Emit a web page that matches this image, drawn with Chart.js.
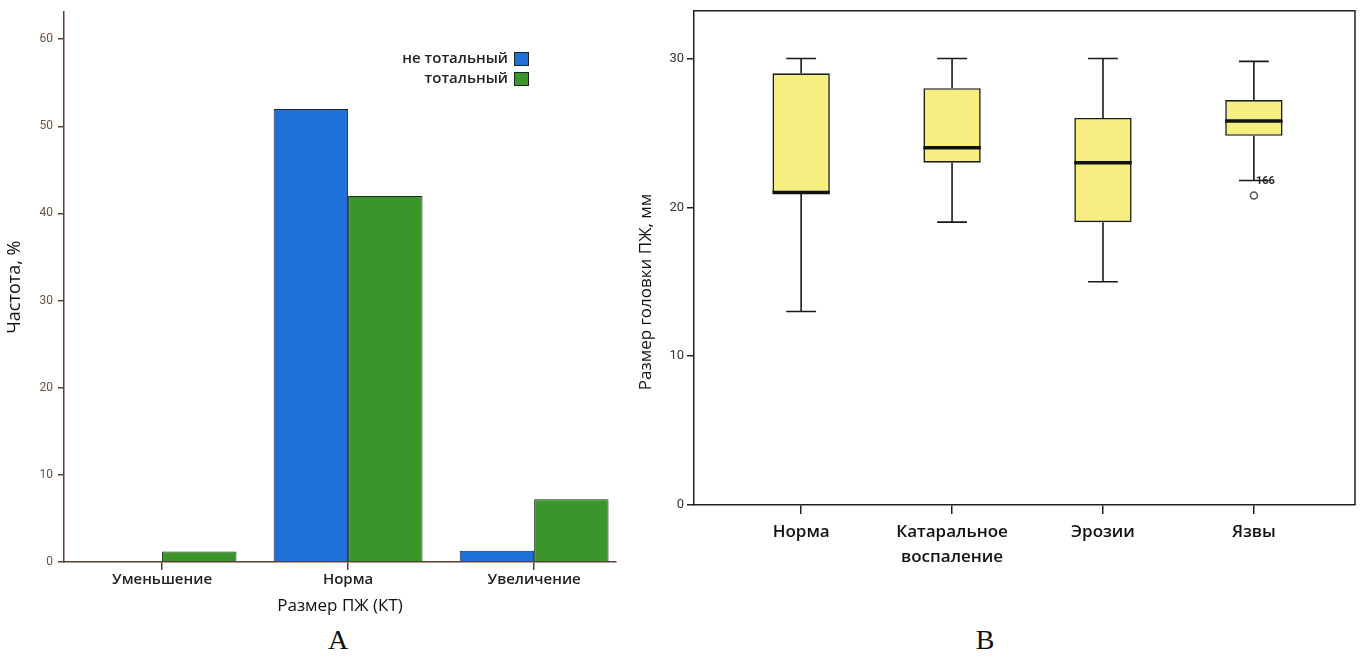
<!DOCTYPE html>
<html>
<head>
<meta charset="utf-8">
<script src="https://cdn.jsdelivr.net/npm/chart.js@4.4.1/dist/chart.umd.min.js"></script>
<style>
  body { margin: 0; background: #fff; width: 1362px; height: 661px; overflow: hidden; position: relative; }
  canvas { position: absolute; top: 0; }
  #chartA { left: 0; }
  #chartB { left: 620px; }
  .panel-letter { position: absolute; top: 624px; width: 60px; text-align: center; font: 28px "Liberation Serif", serif; color: #111; }
</style>
</head>
<body>
<canvas id="chartA" width="625" height="620"></canvas>
<canvas id="chartB" width="742" height="620"></canvas>
<div class="panel-letter" style="left:308px">A</div>
<div class="panel-letter" style="left:955px">B</div>
<script>
// panel A: frequency by pancreas size
var sizeCategories = ['Уменьшение', 'Норма', 'Увеличение'];
var notTotalValues = [0, 52, 1.3];
var totalValues = [1.2, 42, 7.2];
var seriesLabels = ['не тотальный', 'тотальный'];

// panel B: head size by lesion type
var lesionCategories = [['Норма'], ['Катаральное', 'воспаление'], ['Эрозии'], ['Язвы']];
var whiskerLow = [13, 19, 15, 21.8];
var boxLow = [21, 23, 19, 24.8];
var medians = [21, 24, 23, 25.8];
var boxHigh = [29, 28, 26, 27.2];
var whiskerHigh = [30, 30, 30, 29.8];
var outlierCategory = [3];
var outlierValues = [20.8];
var outlierLabels = ['166'];

var brown = '#5c4033';
var brownText = '#6e5040';

function fixedWidth(w) { return function (scale) { scale.width = w; }; }
function fixedHeight(h) { return function (scale) { scale.height = h; }; }

var legendRight = {
    id: 'legendRight',
    afterDraw: function (chart) {
        var ctx = chart.ctx;
        ctx.save();
        ctx.font = '600 15px "Open Sans"';
        ctx.textAlign = 'right';
        ctx.textBaseline = 'middle';
        chart.data.datasets.forEach(function (ds, i) {
            var y = 59 + i * 20;
            ctx.fillStyle = '#222';
            ctx.fillText(ds.label, 508, y);
            ctx.fillStyle = ds.backgroundColor;
            ctx.fillRect(514, y - 7, 15, 14);
            ctx.strokeStyle = '#1a2a1a';
            ctx.lineWidth = 1;
            ctx.strokeRect(514.5, y - 6.5, 14, 13);
        });
        ctx.restore();
    }
};

var chartA = new Chart(document.getElementById('chartA'), {
    type: 'bar',
    data: {
        datasets: [
            {
                label: seriesLabels[0],
                data: notTotalValues.map(function (v, i) { return { x: i, y: v }; }),
                backgroundColor: '#1f71d9',
                borderColor: '#16233a',
                borderWidth: 1
            },
            {
                label: seriesLabels[1],
                data: totalValues.map(function (v, i) { return { x: i, y: v }; }),
                backgroundColor: '#3b952b',
                borderColor: '#16301a',
                borderWidth: 1
            }
        ]
    },
    options: {
        animation: false,
        responsive: false,
        layout: { padding: { top: 10, right: 9 } },
        categoryPercentage: 0.8,
        barPercentage: 1.0,
        plugins: {
            legend: { display: false },
            tooltip: { enabled: false }
        },
        scales: {
            x: {
                type: 'linear',
                offset: false,
                min: -0.527,
                max: 2.44,
                afterBuildTicks: function (scale) {
                    scale.ticks = sizeCategories.map(function (_, i) { return { value: i }; });
                },
                afterFit: fixedHeight(58),
                ticks: {
                    callback: function (v) { return sizeCategories[v]; },
                    autoSkip: false,
                    maxRotation: 0,
                    padding: 1,
                    color: '#222',
                    font: { family: 'Open Sans', size: 15, weight: '600' }
                },
                grid: { offset: false, drawOnChartArea: false, tickLength: 8, color: brown, lineWidth: 1.5 },
                border: { color: brown, width: 1.5 },
                title: {
                    display: true,
                    text: 'Размер ПЖ (КТ)',
                    color: '#111',
                    font: { family: 'Open Sans', size: 17 },
                    padding: { top: 0, bottom: 4 }
                }
            },
            y: {
                min: 0,
                max: 63.1,
                afterFit: fixedWidth(64),
                ticks: {
                    stepSize: 10,
                    includeBounds: false,
                    padding: 5,
                    color: brownText,
                    font: { family: 'Roboto', size: 12 }
                },
                grid: { drawOnChartArea: false, tickLength: 6, color: brown, lineWidth: 1.5 },
                border: { color: brown, width: 1.5 },
                title: {
                    display: true,
                    text: 'Частота, %',
                    color: '#111',
                    font: { family: 'Open Sans', size: 18 },
                    padding: { top: 4, bottom: 0 }
                }
            }
        }
    },
    plugins: [legendRight]
});

var boxDecor = {
    id: 'boxDecor',
    beforeDatasetsDraw: function (chart) {
        var ctx = chart.ctx;
        var ys = chart.scales.y;
        var meta = chart.getDatasetMeta(0);
        ctx.save();
        ctx.strokeStyle = '#1b1b14';
        ctx.lineWidth = 1.6;
        meta.data.forEach(function (bar, i) {
            var x = bar.x;
            var cap = bar.width * 0.26;
            var yMin = ys.getPixelForValue(whiskerLow[i]);
            var yMax = ys.getPixelForValue(whiskerHigh[i]);
            ctx.beginPath();
            ctx.moveTo(x, ys.getPixelForValue(boxHigh[i]));
            ctx.lineTo(x, yMax);
            ctx.moveTo(x - cap, yMax);
            ctx.lineTo(x + cap, yMax);
            ctx.moveTo(x, ys.getPixelForValue(boxLow[i]));
            ctx.lineTo(x, yMin);
            ctx.moveTo(x - cap, yMin);
            ctx.lineTo(x + cap, yMin);
            ctx.stroke();
        });
        ctx.restore();
    },
    afterDatasetsDraw: function (chart) {
        var ctx = chart.ctx;
        var ys = chart.scales.y;
        var meta = chart.getDatasetMeta(0);
        ctx.save();
        ctx.strokeStyle = '#111';
        ctx.lineWidth = 3.5;
        meta.data.forEach(function (bar, i) {
            var y = ys.getPixelForValue(medians[i]);
            ctx.beginPath();
            ctx.moveTo(bar.x - bar.width / 2, y);
            ctx.lineTo(bar.x + bar.width / 2, y);
            ctx.stroke();
        });
        // outlier case numbers
        ctx.fillStyle = '#222';
        ctx.font = 'bold 11px Roboto';
        ctx.textAlign = 'left';
        ctx.textBaseline = 'middle';
        chart.getDatasetMeta(1).data.forEach(function (pt, i) {
            ctx.fillText(outlierLabels[i], pt.x + 2, pt.y - 14);
        });
        // frame on top and right
        var a = chart.chartArea;
        ctx.strokeStyle = '#222';
        ctx.lineWidth = 1.5;
        ctx.beginPath();
        ctx.moveTo(a.left, a.top);
        ctx.lineTo(a.right, a.top);
        ctx.lineTo(a.right, a.bottom);
        ctx.stroke();
        // y axis title, placed lower than the axis centre as in the source
        ctx.save();
        ctx.translate(26, 292);
        ctx.rotate(-Math.PI / 2);
        ctx.textAlign = 'center';
        ctx.fillStyle = '#111';
        ctx.font = '17px "Open Sans"';
        ctx.fillText('Размер головки ПЖ, мм', 0, 0);
        ctx.restore();
        ctx.restore();
    }
};

var chartB = new Chart(document.getElementById('chartB'), {
    type: 'bar',
    data: {
        datasets: [
            {
                data: boxLow.map(function (v, i) { return { x: i, y: [v, boxHigh[i]] }; }),
                backgroundColor: '#f7ee82',
                borderColor: '#1b1b14',
                borderWidth: 1.6,
                borderSkipped: false
            },
            {
                type: 'scatter',
                data: outlierValues.map(function (v, i) { return { x: outlierCategory[i], y: v }; }),
                pointStyle: 'circle',
                pointRadius: 3.5,
                backgroundColor: '#fff',
                borderColor: '#555',
                borderWidth: 1.5
            }
        ]
    },
    options: {
        animation: false,
        responsive: false,
        layout: { padding: { top: 10, right: 7 } },
        categoryPercentage: 0.38,
        barPercentage: 1.0,
        plugins: {
            legend: { display: false },
            tooltip: { enabled: false }
        },
        scales: {
            x: {
                type: 'linear',
                offset: false,
                min: -0.71,
                max: 3.67,
                afterBuildTicks: function (scale) {
                    scale.ticks = lesionCategories.map(function (_, i) { return { value: i }; });
                },
                afterFit: fixedHeight(115),
                ticks: {
                    callback: function (v) { return lesionCategories[v]; },
                    autoSkip: false,
                    maxRotation: 0,
                    padding: 6,
                    color: '#111',
                    font: { family: 'Open Sans', size: 17, weight: '600', lineHeight: 1.45 }
                },
                grid: { offset: false, drawOnChartArea: false, tickLength: 9, color: '#222', lineWidth: 1.5 },
                border: { color: '#222', width: 1.5 }
            },
            y: {
                min: 0,
                max: 33.2,
                afterFit: fixedWidth(74),
                ticks: {
                    stepSize: 10,
                    includeBounds: false,
                    padding: 3,
                    color: '#333',
                    font: { family: 'Roboto', size: 13 }
                },
                grid: { drawOnChartArea: false, tickLength: 7, color: '#222', lineWidth: 1.5 },
                border: { color: '#222', width: 1.5 }
            }
        }
    },
    plugins: [boxDecor]
});
</script>
</body>
</html>
